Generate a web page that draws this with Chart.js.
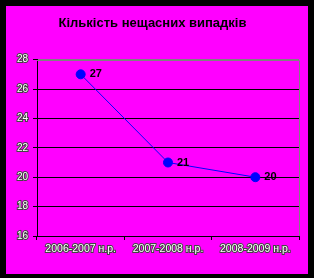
<!DOCTYPE html>
<html><head><meta charset="utf-8">
<script src="https://cdn.jsdelivr.net/npm/chart.js@4"></script>
<style>
html,body{margin:0;padding:0;background:#000;}
#wrap{position:absolute;left:6px;top:6px;width:302px;height:268px;background:#ff00ff;}
canvas{display:block;}
</style></head>
<body>
<div id="wrap"><canvas id="c" width="302" height="268"></canvas></div>
<script>
const titleText = 'Кількість нещасних випадків';
const categories = ['2006-2007 н.р.', '2007-2008 н.р.', '2008-2009 н.р.'];
const accidents = [27, 21, 20];
const yTicks = [16, 18, 20, 22, 24, 26, 28];

const frame = {
  id: 'frame',
  beforeDatasetsDraw(chart) {
    const {ctx, chartArea: a} = chart;
    ctx.save();
    ctx.strokeStyle = '#808080';
    ctx.lineWidth = 1;
    ctx.beginPath();
    ctx.moveTo(a.left, Math.round(a.top) + 0.5);
    ctx.lineTo(Math.round(a.right) + 0.5, Math.round(a.top) + 0.5);
    ctx.lineTo(Math.round(a.right) + 0.5, a.bottom);
    ctx.stroke();
    ctx.restore();
  }
};
const labels = {
  id: 'labels',
  afterDatasetsDraw(chart) {
    const ctx = chart.ctx;
    const meta = chart.getDatasetMeta(0);
    ctx.save();
    ctx.font = 'bold 11px Arial, "Liberation Sans", sans-serif';
    ctx.fillStyle = '#000';
    ctx.textAlign = 'left';
    ctx.textBaseline = 'middle';
    meta.data.forEach((p, i) => {
      ctx.fillText(String(accidents[i]), p.x + 9, p.y);
    });
    ctx.restore();
  }
};

new Chart(document.getElementById('c'), {
  type: 'line',
  data: {
    labels: categories,
    datasets: [{
      data: accidents,
      borderColor: '#0000ff',
      borderWidth: 1,
      backgroundColor: '#0000ff',
      pointBackgroundColor: '#0000ff',
      pointBorderColor: '#0000ff',
      pointRadius: 4.5,
      tension: 0,
      fill: false
    }]
  },
  options: {
    responsive: false,
    animation: false,
    layout: {padding: {left: 0, right: 9, top: 0, bottom: 0}},
    plugins: {
      legend: {display: false},
      tooltip: {enabled: false},
      title: {
        display: true,
        text: titleText,
        color: '#000',
        font: {family: 'Arial, "Liberation Sans", sans-serif', size: 13, weight: 'bold', lineHeight: 1.2},
        padding: {top: 10, bottom: 28}
      }
    },
    scales: {
      x: {
        type: 'category',
        offset: true,
        grid: {display: true, offset: true, drawOnChartArea: false, drawTicks: true, tickLength: 4, color: '#000'},
        border: {display: true, color: '#000', width: 1},
        ticks: {
          color: '#fff', textStrokeColor: '#444', textStrokeWidth: 2,
          font: {family: 'Arial, "Liberation Sans", sans-serif', size: 10.5},
          padding: 3, maxRotation: 0, autoSkip: false
        },
        afterFit(s) { s.height = 38; }
      },
      y: {
        min: 16, max: 28,
        afterBuildTicks(s) { s.ticks = yTicks.map(v => ({value: v})); },
        grid: {
          color: (c) => c.tick && c.tick.value === 28 ? '#808080' : '#000',
          tickColor: '#000',
          lineWidth: 1, drawTicks: true, tickLength: 4
        },
        border: {display: true, color: '#000', width: 1},
        ticks: {
          color: '#fff', textStrokeColor: '#444', textStrokeWidth: 2,
          font: {family: 'Arial, "Liberation Sans", sans-serif', size: 10},
          padding: 5
        },
        afterFit(s) { s.width = 31; }
      }
    }
  },
  plugins: [frame, labels]
});
</script>
</body></html>
